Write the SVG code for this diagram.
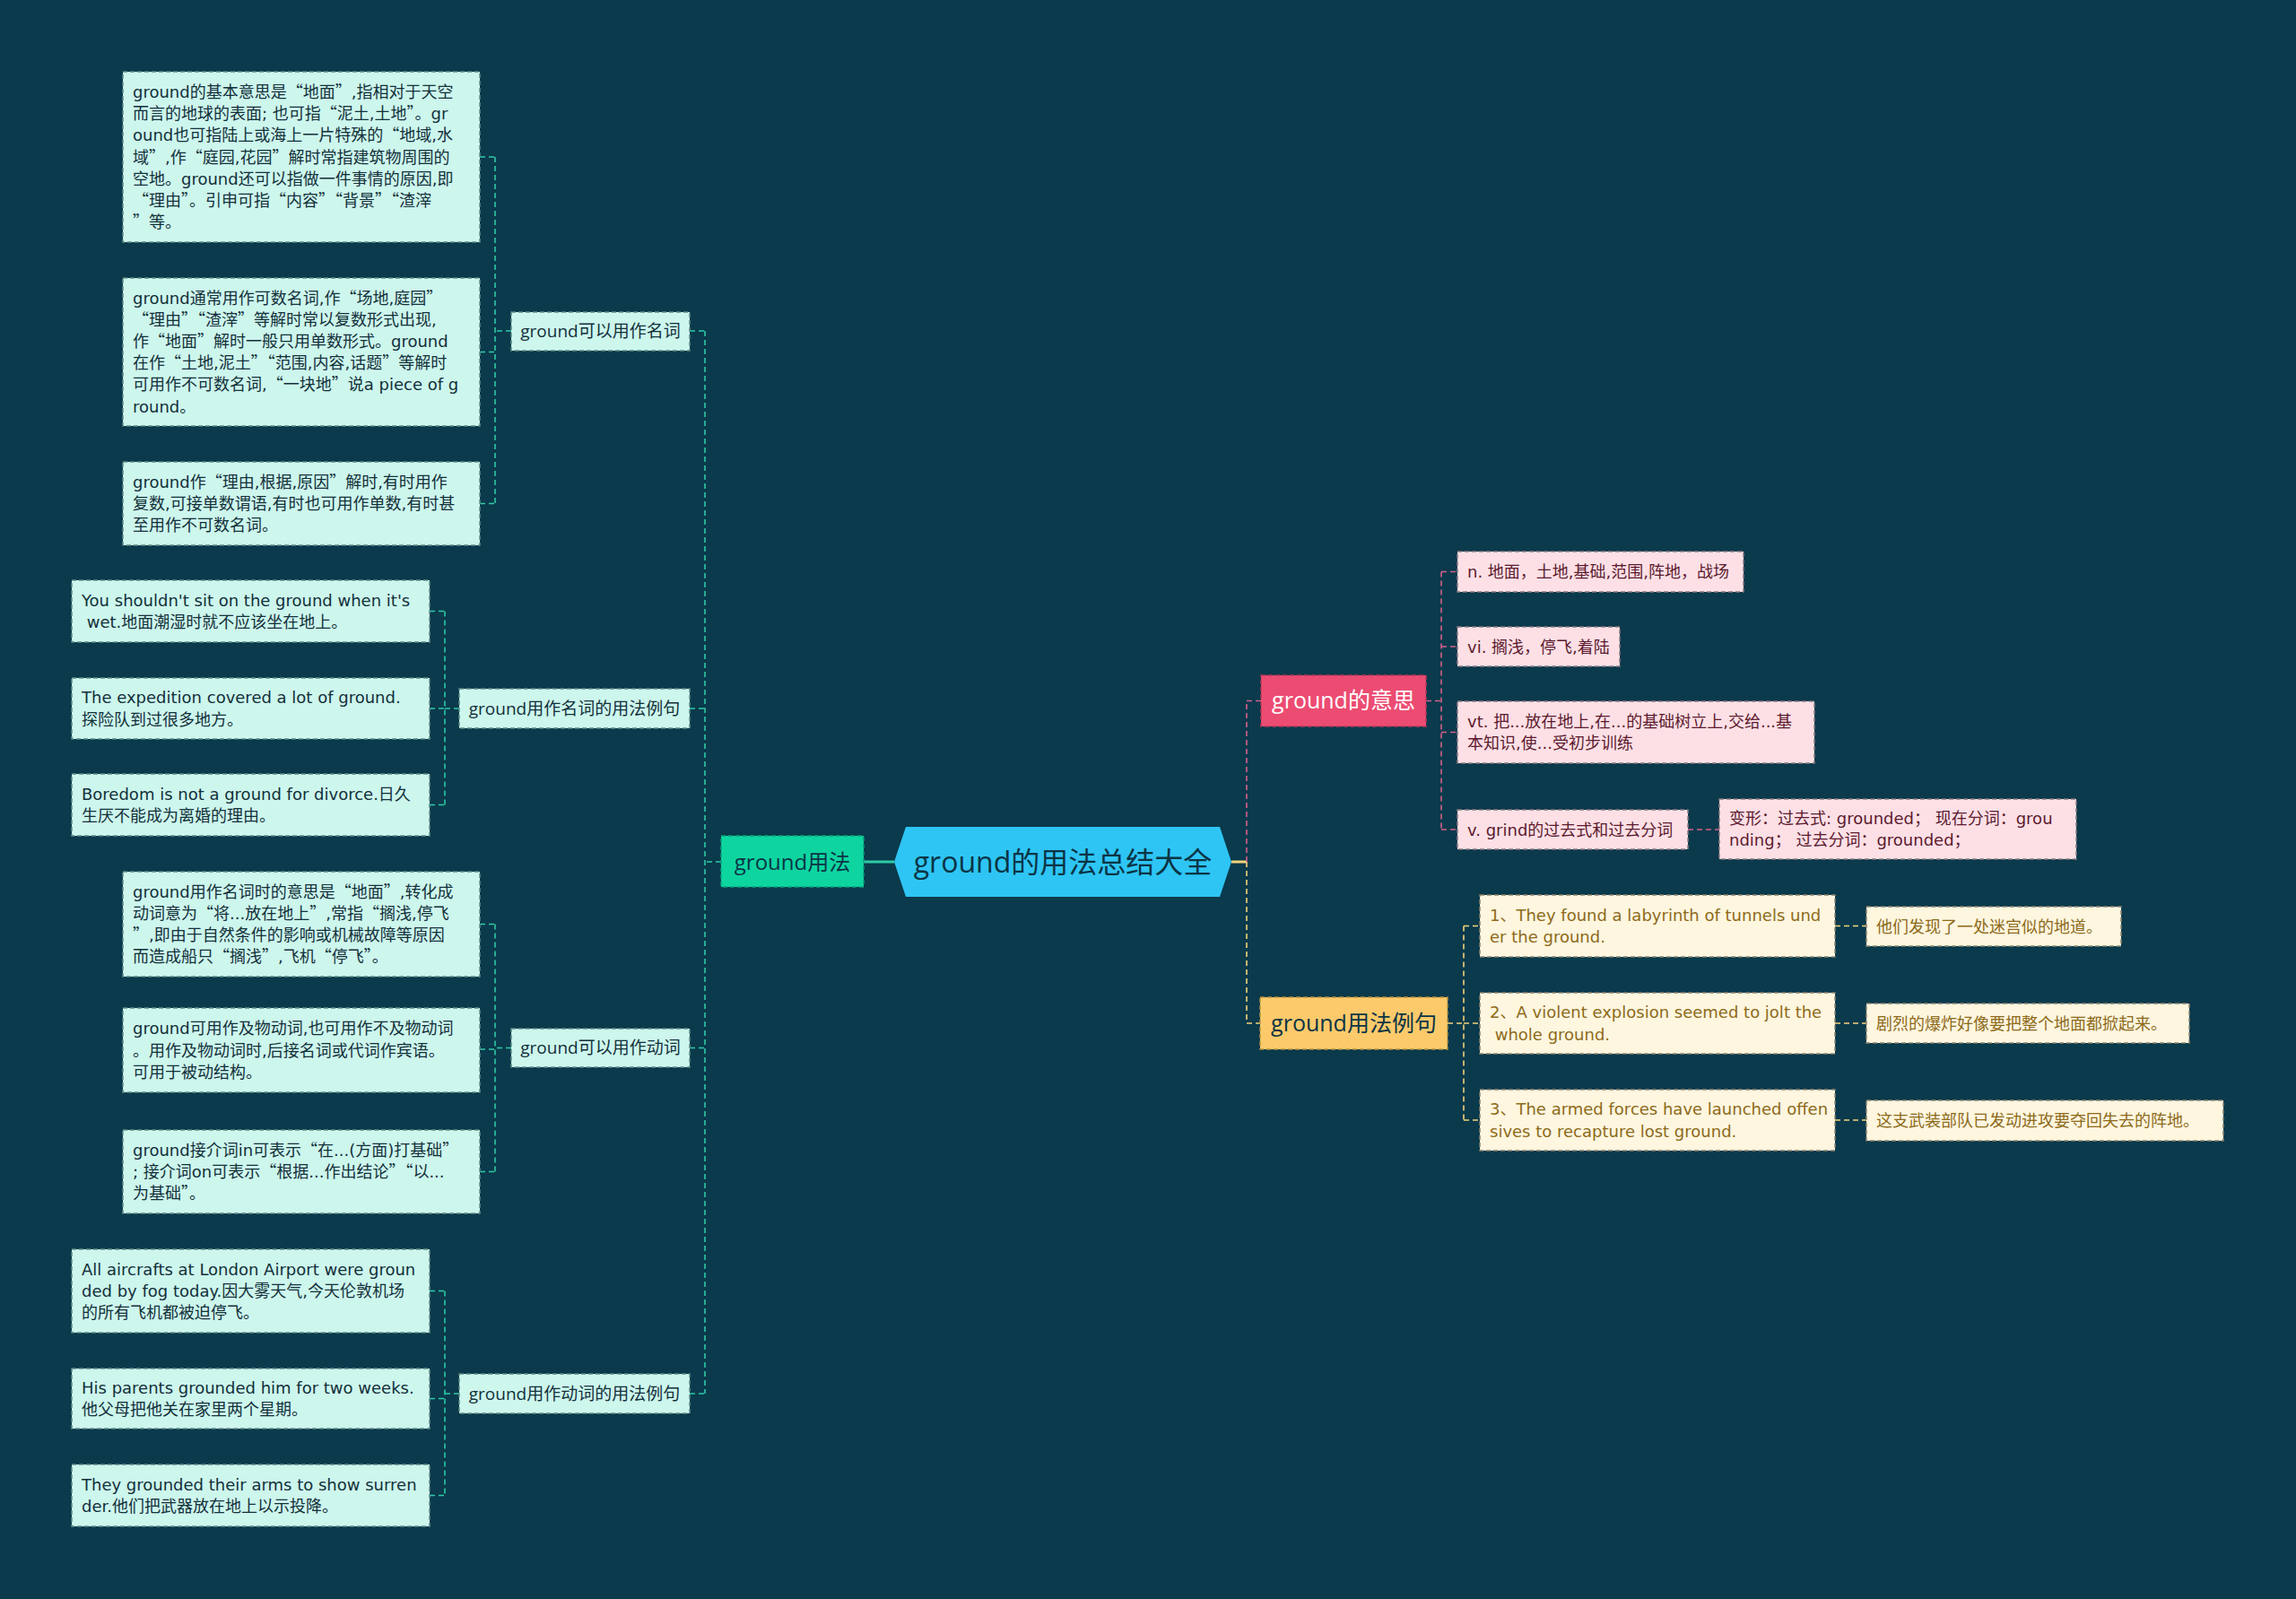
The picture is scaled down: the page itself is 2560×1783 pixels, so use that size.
<svg xmlns="http://www.w3.org/2000/svg" width="2560" height="1783" viewBox="0 0 2560 1783">
<style>
text{font-family:"Open Sans","Noto Sans CJK SC",sans-serif;}
.lt,.pt,.yt{font-family:"DejaVu Sans","Noto Sans CJK SC",sans-serif;}
.q{font-family:"Noto Sans CJK SC",sans-serif;}
.pre{white-space:pre;}
.bg{fill:#0a3a4c;}
.mint{fill:#cdf6ed;stroke:#5e8c86;stroke-width:1.5;stroke-dasharray:5 3;}
.pinkl{fill:#fde0e6;stroke:#8a7a80;stroke-width:1.5;stroke-dasharray:5 3;}
.cream{fill:#fef6df;stroke:#8c8470;stroke-width:1.5;stroke-dasharray:5 3;}
.lt{font-size:18px;fill:#13303a;}
.pt{font-size:18px;fill:#5c1a2e;}
.yt{font-size:18px;fill:#8d6a1a;}
.st{font-size:19px;fill:#13303a;}
.ct{stroke:#2fc9a6;stroke-width:1.6;stroke-dasharray:6 4;fill:none;}
.cp{stroke:#d4608a;stroke-width:1.6;stroke-dasharray:6 4;fill:none;}
.cy{stroke:#f3d27a;stroke-width:1.6;stroke-dasharray:6 4;fill:none;}
</style>
<rect class="bg" x="0" y="0" width="2560" height="1783"/>

<g id="connectors">
  <line x1="963" y1="961" x2="997" y2="961" stroke="#2fc9a6" stroke-width="3"/>
  <line x1="1373" y1="961" x2="1390" y2="961" stroke="#f3d27a" stroke-width="3"/>
  <path class="ct" d="M804 961H786M786 369V1554M769 369H786M769 790H786M769 1168.5H786M769 1554H786"/>
  <path class="ct" d="M570 369H552M552 175V561.5M535 175H552M535 392.5H552M535 561.5H552"/>
  <path class="ct" d="M512 790H496M496 681.5V897.5M479 681.5H496M479 790H496M479 897.5H496"/>
  <path class="ct" d="M570 1168.5H552M552 1030.5V1306.5M535 1030.5H552M535 1170H552M535 1306.5H552"/>
  <path class="ct" d="M512 1554H496M496 1439.5V1667.5M479 1439.5H496M479 1559.5H496M479 1667.5H496"/>
  <path class="cp" d="M1390 961V781.5M1390 781.5H1406"/>
  <path class="cp" d="M1590 781.5H1607M1607 637.5V925M1607 637.5H1625M1607 721H1625M1607 816.5H1625M1607 925H1625M1882 925H1917"/>
  <path class="cy" d="M1390 961V1141M1390 1141H1405"/>
  <path class="cy" d="M1614 1141H1632M1632 1032.5V1249M1632 1032.5H1650M1632 1141H1650M1632 1249H1650M2046 1032.5H2081M2046 1141H2081M2046 1249H2081"/>
</g>

<g id="root">
  <polygon points="997,961 1010,922 1360,922 1373,961 1360,1000 1010,1000" fill="#2ec5f4"/>
  <text x="1185" y="972.5" text-anchor="middle" font-size="32" fill="#0b3445">ground的用法总结大全</text>
</g>

<g id="usage">
  <rect x="804" y="932" width="159" height="57" fill="#0ed5a0" stroke="#0a9e78" stroke-width="1.5" stroke-dasharray="5 3"/>
  <text x="883.5" y="969.5" text-anchor="middle" font-size="24" fill="#0b3445">ground用法</text>
</g>

<g id="noun">
  <rect class="mint" x="570" y="348" width="199" height="43"/>
  <text class="st" x="669.5" y="376" text-anchor="middle">ground可以用作名词</text>
</g>
<g id="noun1">
  <rect class="mint" x="137" y="80" width="398" height="190"/>
  <text class="lt">
    <tspan x="148" y="109">ground的基本意思是<tspan class="q">“</tspan>地面<tspan class="q">”</tspan>,指相对于天空</tspan>
    <tspan x="148" y="133.2">而言的地球的表面; 也可指<tspan class="q">“</tspan>泥土,土地<tspan class="q">”</tspan>。gr</tspan>
    <tspan x="148" y="157.4">ound也可指陆上或海上一片特殊的<tspan class="q">“</tspan>地域,水</tspan>
    <tspan x="148" y="181.6">域<tspan class="q">”</tspan>,作<tspan class="q">“</tspan>庭园,花园<tspan class="q">”</tspan>解时常指建筑物周围的</tspan>
    <tspan x="148" y="205.8">空地。ground还可以指做一件事情的原因,即</tspan>
    <tspan x="148" y="230"><tspan class="q">“</tspan>理由<tspan class="q">”</tspan>。引申可指<tspan class="q">“</tspan>内容<tspan class="q">”“</tspan>背景<tspan class="q">”“</tspan>渣滓</tspan>
    <tspan x="148" y="254.2"><tspan class="q">”</tspan>等。</tspan>
  </text>
</g>
<g id="noun2">
  <rect class="mint" x="137" y="310" width="398" height="165"/>
  <text class="lt">
    <tspan x="148" y="338.5">ground通常用作可数名词,作<tspan class="q">“</tspan>场地,庭园<tspan class="q">”</tspan></tspan>
    <tspan x="148" y="362.7"><tspan class="q">“</tspan>理由<tspan class="q">”“</tspan>渣滓<tspan class="q">”</tspan>等解时常以复数形式出现,</tspan>
    <tspan x="148" y="386.9">作<tspan class="q">“</tspan>地面<tspan class="q">”</tspan>解时一般只用单数形式。ground</tspan>
    <tspan x="148" y="411.1">在作<tspan class="q">“</tspan>土地,泥土<tspan class="q">”“</tspan>范围,内容,话题<tspan class="q">”</tspan>等解时</tspan>
    <tspan x="148" y="435.3">可用作不可数名词,<tspan class="q">“</tspan>一块地<tspan class="q">”</tspan>说a piece of g</tspan>
    <tspan x="148" y="459.5">round。</tspan>
  </text>
</g>
<g id="noun3">
  <rect class="mint" x="137" y="515" width="398" height="93"/>
  <text class="lt">
    <tspan x="148" y="543.8">ground作<tspan class="q">“</tspan>理由,根据,原因<tspan class="q">”</tspan>解时,有时用作</tspan>
    <tspan x="148" y="568">复数,可接单数谓语,有时也可用作单数,有时甚</tspan>
    <tspan x="148" y="592.2">至用作不可数名词。</tspan>
  </text>
</g>

<g id="nounex">
  <rect class="mint" x="512" y="768" width="257" height="44"/>
  <text class="st" x="640.5" y="796.5" text-anchor="middle">ground用作名词的用法例句</text>
</g>
<g id="nounex1">
  <rect class="mint" x="80" y="647" width="399" height="69"/>
  <text class="lt">
    <tspan x="91" y="675.9">You shouldn't sit on the ground when it's</tspan>
    <tspan class="pre" x="91" y="700.1"> wet.地面潮湿时就不应该坐在地上。</tspan>
  </text>
</g>
<g id="nounex2">
  <rect class="mint" x="80" y="756" width="399" height="68"/>
  <text class="lt">
    <tspan x="91" y="784.4">The expedition covered a lot of ground.</tspan>
    <tspan x="91" y="808.6">探险队到过很多地方。</tspan>
  </text>
</g>
<g id="nounex3">
  <rect class="mint" x="80" y="863" width="399" height="69"/>
  <text class="lt">
    <tspan x="91" y="891.9">Boredom is not a ground for divorce.日久</tspan>
    <tspan x="91" y="916.1">生厌不能成为离婚的理由。</tspan>
  </text>
</g>

<g id="verb">
  <rect class="mint" x="570" y="1147" width="199" height="43"/>
  <text class="st" x="669.5" y="1175" text-anchor="middle">ground可以用作动词</text>
</g>
<g id="verb1">
  <rect class="mint" x="137" y="972" width="398" height="117"/>
  <text class="lt">
    <tspan x="148" y="1000.7">ground用作名词时的意思是<tspan class="q">“</tspan>地面<tspan class="q">”</tspan>,转化成</tspan>
    <tspan x="148" y="1024.9">动词意为<tspan class="q">“</tspan>将...放在地上<tspan class="q">”</tspan>,常指<tspan class="q">“</tspan>搁浅,停飞</tspan>
    <tspan x="148" y="1049.1"><tspan class="q">”</tspan>,即由于自然条件的影响或机械故障等原因</tspan>
    <tspan x="148" y="1073.3">而造成船只<tspan class="q">“</tspan>搁浅<tspan class="q">”</tspan>,飞机<tspan class="q">“</tspan>停飞<tspan class="q">”</tspan>。</tspan>
  </text>
</g>
<g id="verb2">
  <rect class="mint" x="137" y="1124" width="398" height="94"/>
  <text class="lt">
    <tspan x="148" y="1153.3">ground可用作及物动词,也可用作不及物动词</tspan>
    <tspan x="148" y="1177.5">。用作及物动词时,后接名词或代词作宾语。</tspan>
    <tspan x="148" y="1201.7">可用于被动结构。</tspan>
  </text>
</g>
<g id="verb3">
  <rect class="mint" x="137" y="1260" width="398" height="93"/>
  <text class="lt">
    <tspan x="148" y="1288.8">ground接介词in可表示<tspan class="q">“</tspan>在...(方面)打基础<tspan class="q">”</tspan></tspan>
    <tspan x="148" y="1313">; 接介词on可表示<tspan class="q">“</tspan>根据...作出结论<tspan class="q">”“</tspan>以...</tspan>
    <tspan x="148" y="1337.2">为基础<tspan class="q">”</tspan>。</tspan>
  </text>
</g>

<g id="verbex">
  <rect class="mint" x="512" y="1532" width="257" height="44"/>
  <text class="st" x="640.5" y="1560.5" text-anchor="middle">ground用作动词的用法例句</text>
</g>
<g id="verbex1">
  <rect class="mint" x="80" y="1393" width="399" height="93"/>
  <text class="lt">
    <tspan x="91" y="1421.8">All aircrafts at London Airport were groun</tspan>
    <tspan x="91" y="1446">ded by fog today.因大雾天气,今天伦敦机场</tspan>
    <tspan x="91" y="1470.2">的所有飞机都被迫停飞。</tspan>
  </text>
</g>
<g id="verbex2">
  <rect class="mint" x="80" y="1526" width="399" height="67"/>
  <text class="lt">
    <tspan x="91" y="1553.9">His parents grounded him for two weeks.</tspan>
    <tspan x="91" y="1578.1">他父母把他关在家里两个星期。</tspan>
  </text>
</g>
<g id="verbex3">
  <rect class="mint" x="80" y="1633" width="399" height="69"/>
  <text class="lt">
    <tspan x="91" y="1661.9">They grounded their arms to show surren</tspan>
    <tspan x="91" y="1686.1">der.他们把武器放在地上以示投降。</tspan>
  </text>
</g>

<g id="meaning">
  <rect x="1406" y="753" width="184" height="57" fill="#ec4c72" stroke="#b8375a" stroke-width="1.5" stroke-dasharray="5 3"/>
  <text x="1498" y="790" text-anchor="middle" font-size="25" fill="#ffffff">ground的意思</text>
</g>
<g id="m1">
  <rect class="pinkl" x="1625" y="615" width="319" height="45"/>
  <text class="pt" x="1636" y="644">n. 地面，土地,基础,范围,阵地，战场</text>
</g>
<g id="m2">
  <rect class="pinkl" x="1625" y="699" width="181" height="44"/>
  <text class="pt" x="1636" y="727.5">vi. 搁浅，停飞,着陆</text>
</g>
<g id="m3">
  <rect class="pinkl" x="1625" y="782" width="398" height="69"/>
  <text class="pt">
    <tspan x="1636" y="810.9">vt. 把...放在地上,在...的基础树立上,交给...基</tspan>
    <tspan x="1636" y="835.1">本知识,使...受初步训练</tspan>
  </text>
</g>
<g id="m4">
  <rect class="pinkl" x="1625" y="903" width="257" height="44"/>
  <text class="pt" x="1636" y="931.5">v. grind的过去式和过去分词</text>
</g>
<g id="m5">
  <rect class="pinkl" x="1917" y="891" width="398" height="67"/>
  <text class="pt">
    <tspan x="1928" y="918.9">变形：过去式: grounded； 现在分词：grou</tspan>
    <tspan x="1928" y="943.1">nding； 过去分词：grounded；</tspan>
  </text>
</g>

<g id="examples">
  <rect x="1405" y="1112" width="209" height="58" fill="#fcca6b" stroke="#b89240" stroke-width="1.5" stroke-dasharray="5 3"/>
  <text x="1509.5" y="1150" text-anchor="middle" font-size="25" fill="#0b3445">ground用法例句</text>
</g>
<g id="y1">
  <rect class="cream" x="1650" y="998" width="396" height="69"/>
  <text class="yt">
    <tspan x="1661" y="1026.9">1、They found a labyrinth of tunnels und</tspan>
    <tspan x="1661" y="1051.1">er the ground.</tspan>
  </text>
</g>
<g id="y2">
  <rect class="cream" x="1650" y="1107" width="396" height="68"/>
  <text class="yt">
    <tspan x="1661" y="1135.4">2、A violent explosion seemed to jolt the</tspan>
    <tspan class="pre" x="1661" y="1159.6"> whole ground.</tspan>
  </text>
</g>
<g id="y3">
  <rect class="cream" x="1650" y="1215" width="396" height="68"/>
  <text class="yt">
    <tspan x="1661" y="1243.4">3、The armed forces have launched offen</tspan>
    <tspan x="1661" y="1267.6">sives to recapture lost ground.</tspan>
  </text>
</g>
<g id="t1">
  <rect class="cream" x="2081" y="1011" width="284" height="44"/>
  <text class="yt" x="2092" y="1039.5">他们发现了一处迷宫似的地道。</text>
</g>
<g id="t2">
  <rect class="cream" x="2081" y="1119" width="360" height="44"/>
  <text class="yt" x="2092" y="1147.5">剧烈的爆炸好像要把整个地面都掀起来。</text>
</g>
<g id="t3">
  <rect class="cream" x="2081" y="1227" width="398" height="45"/>
  <text class="yt" x="2092" y="1256">这支武装部队已发动进攻要夺回失去的阵地。</text>
</g>
</svg>
